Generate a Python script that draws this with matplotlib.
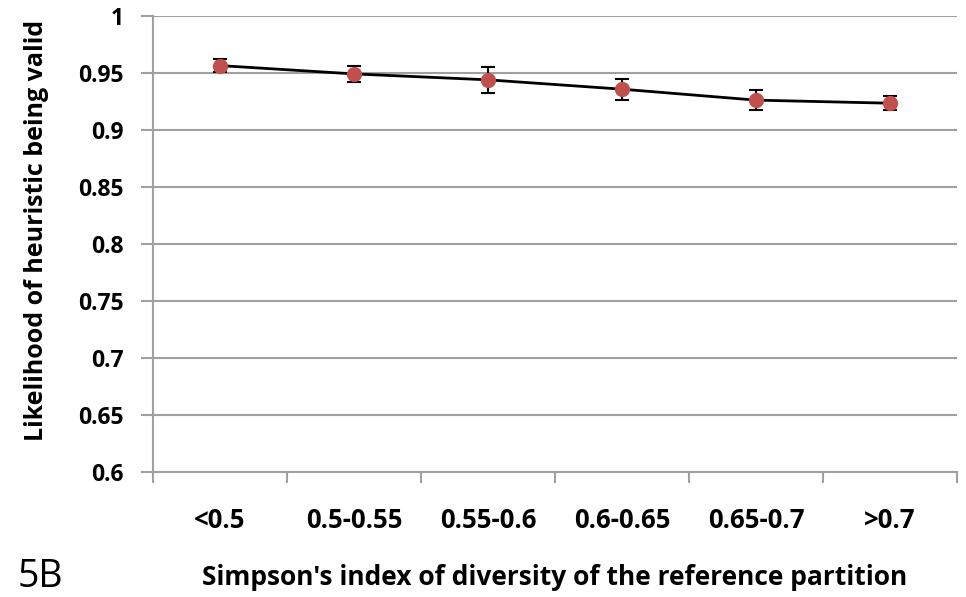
import numpy as np
import matplotlib.pyplot as plt

categories = ["<0.5", "0.5-0.55", "0.55-0.6", "0.6-0.65", "0.65-0.7", ">0.7"]
likelihood = [0.9565, 0.9492, 0.9440, 0.9358, 0.9262, 0.9235]
errors = [0.0058, 0.0070, 0.0112, 0.0093, 0.0085, 0.0060]
y_ticks = [0.6, 0.65, 0.7, 0.75, 0.8, 0.85, 0.9, 0.95, 1.0]
y_tick_labels = ["0.6", "0.65", "0.7", "0.75", "0.8", "0.85", "0.9", "0.95", "1"]

plt.rcParams['font.family'] = ['Open Sans', 'DejaVu Sans']

fig = plt.figure(figsize=(9.66, 5.97), dpi=100)
ax = fig.add_axes([0.1584, 0.2094, 0.8323, 0.7638])

x = np.arange(len(categories))
ax.errorbar(x, likelihood, yerr=errors, color='black', lw=2,
            ecolor='black', elinewidth=1.5, capsize=5, capthick=1.5,
            marker='o', markersize=10, markerfacecolor='#c0504d',
            markeredgecolor='#c0504d', zorder=3)

ax.set_xlim(-0.5, len(categories) - 0.5)
ax.set_ylim(0.6, 1.0)
ax.set_yticks(y_ticks)
ax.set_yticklabels(y_tick_labels, fontsize=16.5, fontweight='bold')
ax.yaxis.grid(True, color='#a0a0a0', lw=1.5)
ax.set_axisbelow(True)

# category labels sit between the boundary ticks
ax.set_xticks(np.arange(-0.5, len(categories), 1.0))
ax.set_xticklabels([])
ax.set_xticks(x, minor=True)
ax.set_xticklabels(categories, minor=True, fontsize=18.5, fontweight='bold')
ax.tick_params(axis='x', which='minor', length=0, pad=25)
ax.tick_params(axis='x', which='major', length=8, width=1.5, color='#a0a0a0')
ax.tick_params(axis='y', length=9, width=1.5, color='#a0a0a0', pad=12)

for side in ['top', 'right']:
    ax.spines[side].set_visible(False)
for side in ['left', 'bottom']:
    ax.spines[side].set_color('#a0a0a0')
    ax.spines[side].set_linewidth(1.5)

ax.set_ylabel("Likelihood of heuristic being valid", fontsize=18,
              fontweight='bold', labelpad=21)
ax.yaxis.label.set_y(0.53)
ax.set_xlabel("Simpson's index of diversity of the reference partition",
              fontsize=19, fontweight='bold', labelpad=22)

fig.text(18 / 966, 0.002, "5B", fontsize=27, va='bottom')

fig.savefig("out.png", dpi=100)
